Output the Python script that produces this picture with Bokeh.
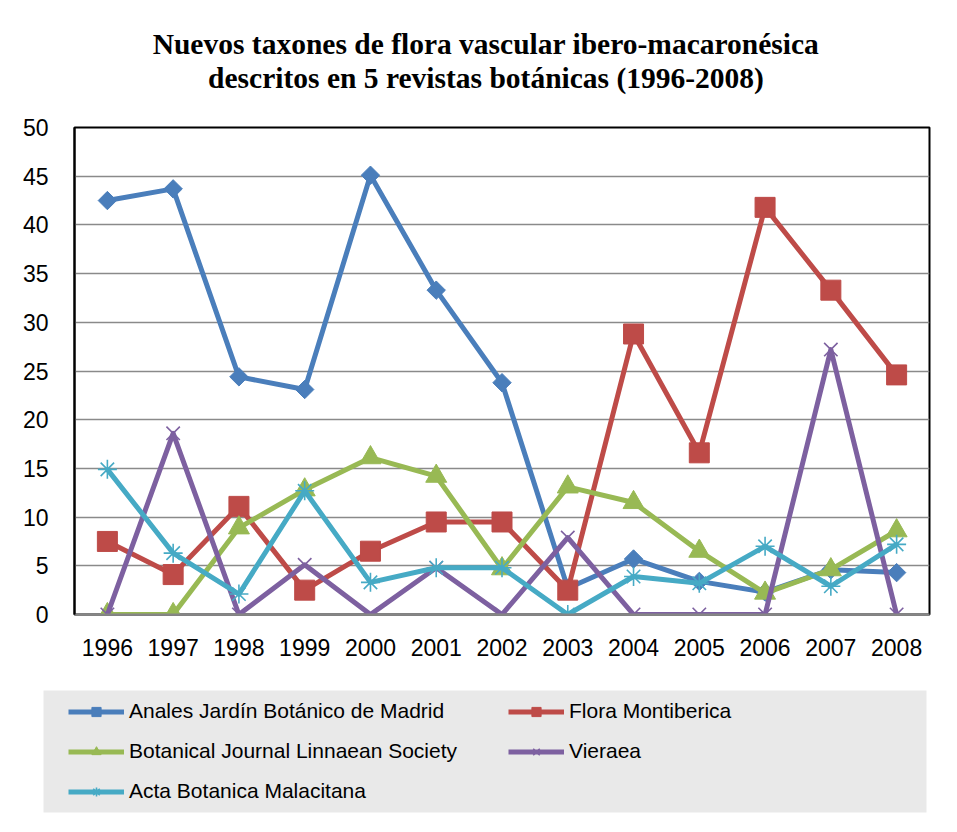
from bokeh.plotting import figure
from bokeh.layouts import column, row
from bokeh.models import Legend, LegendItem, FactorRange, Range1d, SingleIntervalTicker, Title
from bokeh.embed import file_html
from bokeh.resources import INLINE
import numpy as np

years = ["1996", "1997", "1998", "1999", "2000", "2001", "2002",
         "2003", "2004", "2005", "2006", "2007", "2008"]
anales = [42.5, 43.7, 24.4, 23.1, 45.1, 33.3, 23.8, 2.7, 5.7, 3.4, 2.3, 4.6, 4.3]
flora = [7.5, 4.1, 11.1, 2.5, 6.5, 9.5, 9.5, 2.5, 28.8, 16.6, 41.8, 33.3, 24.6]
botanical = [0, 0, 8.9, 12.8, 16.1, 14.2, 4.7, 13.1, 11.5, 6.5, 2.2, 4.6, 8.6]
vieraea = [0, 18.6, 0, 5.1, 0, 4.8, 0, 7.9, 0, 0, 0, 27.2, 0]
acta = [14.9, 6.3, 2.1, 12.7, 3.3, 4.8, 4.8, 0, 3.9, 3.2, 7.0, 2.9, 7.2]

names = ["Anales Jardín Botánico de Madrid", "Flora Montiberica",
         "Botanical Journal Linnaean Society", "Vieraea", "Acta Botanica Malacitana"]
colors = ["#4A7EBB", "#BE4B48", "#98B954", "#7D60A0", "#46AAC5"]
title_line1 = "Nuevos taxones de flora vascular ibero-macaronésica"
title_line2 = "descritos en 5 revistas botánicas (1996-2008)"

# ---- title strip -------------------------------------------------------------
t = figure(width=941, height=100, output_backend="svg", toolbar_location=None,
           x_axis_location=None, y_axis_location=None,
           min_border_left=30, min_border_right=0, min_border_top=93, min_border_bottom=0,
           outline_line_color=None, background_fill_color="white", border_fill_color="white")
t.xgrid.grid_line_color = None
t.ygrid.grid_line_color = None
tstyle = dict(align="center", text_font="Liberation Serif", text_font_style="bold",
              text_font_size="29.5px", text_color="black", standoff=0)
t.title.text = title_line1
for k, v in tstyle.items():
    setattr(t.title, k, v)
t.add_layout(Title(text=title_line2, **tstyle), "above")

# ---- chart -------------------------------------------------------------------
x_range = FactorRange(*years)
p = figure(width=941, height=580, x_range=x_range, y_range=Range1d(0, 50),
           output_backend="svg", toolbar_location=None,
           min_border_left=74, min_border_right=12, min_border_top=27, min_border_bottom=66)

p.outline_line_color = "black"
p.outline_line_width = 2
p.background_fill_color = "white"
p.border_fill_color = "white"

p.xgrid.grid_line_color = None
p.ygrid.grid_line_color = "#8a8a8a"
p.ygrid.grid_line_width = 1.5
p.yaxis.ticker = SingleIntervalTicker(interval=5)

for ax in (p.xaxis[0], p.yaxis[0]):
    ax.major_tick_line_color = None
    ax.minor_tick_line_color = None
    ax.major_tick_out = 0
    ax.major_tick_in = 0
    ax.major_label_text_font = "Liberation Sans"
    ax.major_label_text_font_size = "23px"
    ax.major_label_text_color = "black"
p.yaxis.axis_line_color = "black"
p.yaxis.axis_line_width = 2
p.yaxis.major_label_standoff = 22
p.xaxis.axis_line_color = "#868686"
p.xaxis.axis_line_width = 2
p.xaxis.major_label_standoff = 24

series = [anales, flora, botanical, vieraea, acta]
markers = [("square", 13, np.pi / 4, True), ("square", 20, 0, True),
           ("triangle", 21, 0, True), ("x", 19, 0, False), ("asterisk", 19, 0, False)]


def draw(fig):
    out = []
    for vals, col, (mk, sz, ang, filled) in zip(series, colors, markers):
        lr = fig.line(years, vals, line_color=col, line_width=5, line_join="round")
        if filled:
            sr = fig.scatter(years, vals, marker=mk, size=sz, angle=ang,
                             fill_color=col, line_color=col, line_width=1)
        else:
            sr = fig.scatter(years, vals, marker=mk, size=sz, line_color=col, line_width=1.6)
        out.append([lr, sr])
    return out


draw(p)

# ---- legend strip: its frame is the grey legend box; its copies of the series lie
# outside its visible range, so only the legend entries show -----------------------
q = figure(width=941, height=136, x_range=x_range, y_range=Range1d(-200, -100),
           output_backend="svg", toolbar_location=None,
           x_axis_location=None, y_axis_location=None,
           min_border_left=43, min_border_right=15, min_border_top=10, min_border_bottom=4,
           outline_line_color=None, background_fill_color="#E9E9E9",
           border_fill_color="white")
q.xgrid.grid_line_color = None
q.ygrid.grid_line_color = None
leg_renderers = draw(q)

legend = Legend(items=[LegendItem(label=n, renderers=r) for n, r in zip(names, leg_renderers)],
                orientation="horizontal", ncols=2, location="left", margin=25,
                label_text_font="Liberation Sans", label_text_font_size="21px",
                label_text_color="black", glyph_height=23, label_height=23,
                spacing=16, padding=10, glyph_width=56, label_standoff=5,
                label_width=363, border_line_color=None, background_fill_alpha=0.0)
q.add_layout(legend, "center")

open("out.html", "w").write(file_html(column(row(t), row(p), row(q)), INLINE))
